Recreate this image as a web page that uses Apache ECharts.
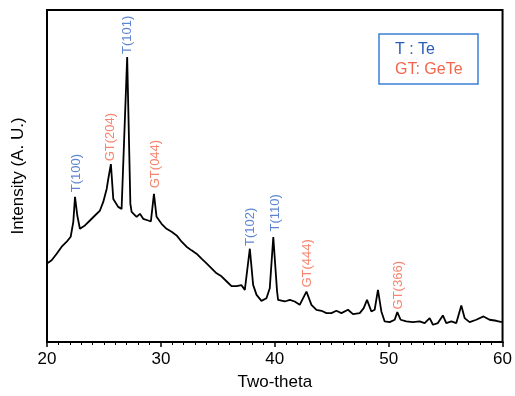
<!DOCTYPE html>
<html>
<head>
<meta charset="utf-8">
<script src="https://cdn.jsdelivr.net/npm/echarts@6/dist/echarts.min.js"></script>
<style>
  html, body { margin: 0; padding: 0; background: #fff; }
  #chart { width: 515px; height: 396px; }
</style>
</head>
<body>
<div id="chart"></div>
<script>
// two-theta (deg) and intensity (a.u.)
const twoTheta = [
  20.03, 20.41, 20.85, 21.29, 21.73, 22.08, 22.31, 22.46, 22.66, 22.89,
  23.33, 23.77, 24.21, 24.65, 24.94, 25.24, 25.38, 25.61, 25.82, 26.25,
  26.55, 26.71, 27.04, 27.32, 27.43, 27.87, 28.16, 28.45, 28.89, 29.12,
  29.39, 29.62, 30.06, 30.50, 30.94, 31.38, 31.82, 32.25, 32.69, 33.13,
  33.57, 34.01, 34.45, 34.89, 35.32, 35.76, 36.20, 36.64, 37.08, 37.37,
  37.81, 38.10, 38.40, 38.83, 39.27, 39.56, 39.87, 40.20, 40.29, 40.88,
  41.32, 41.75, 42.19, 42.78, 43.22, 43.66, 44.10, 44.54, 44.97, 45.41,
  45.85, 46.43, 46.87, 47.46, 47.81, 48.10, 48.48, 48.77, 49.06, 49.36,
  49.65, 50.09, 50.53, 50.76, 51.05, 51.55, 52.13, 52.72, 53.16, 53.60,
  53.89, 54.32, 54.76, 55.06, 55.50, 55.94, 56.38, 56.67, 57.11, 57.69,
  58.33, 58.86, 59.45, 59.94
];
const intensity = [
  23.7, 24.6, 26.6, 28.7, 30.2, 31.7, 36.2, 43.7, 38.1, 34.1,
  35.1, 36.6, 38.1, 39.6, 42.2, 46.1, 49.1, 53.6, 43.1, 40.7,
  40.1, 40.7, 85.8, 41.6, 39.2, 37.7, 38.6, 37.1, 36.6, 36.3,
  44.6, 37.7, 35.6, 34.1, 33.2, 32.1, 30.2, 28.7, 27.6, 26.6,
  25.1, 23.7, 22.2, 20.7, 19.8, 18.3, 16.8, 16.8, 17.1, 15.7,
  28.1, 17.2, 14.2, 12.4, 13.2, 16.2, 31.6, 15.3, 12.7, 12.2,
  12.7, 12.2, 11.2, 15.2, 11.2, 9.7, 9.4, 8.7, 8.7, 9.4,
  8.7, 9.7, 8.4, 8.7, 10.2, 12.7, 9.2, 9.7, 15.7, 9.2,
  6.2, 6.0, 6.7, 9.0, 6.7, 6.2, 6.0, 6.2, 5.7, 7.2,
  5.2, 5.7, 8.0, 5.7, 6.2, 5.7, 11.0, 7.2, 6.0, 6.7,
  7.7, 6.7, 6.4, 6.0
];

// peak labels (centre of each vertical label)
const peakText = ['T(100)', 'GT(204)', 'T(101)', 'GT(044)', 'T(102)', 'T(110)', 'GT(444)', 'GT(366)'];
const peakX = [22.59, 25.61, 27.06, 29.52, 37.89, 40.09, 42.85, 50.88];
const peakY = [50.9, 61.7, 92.5, 53.6, 34.7, 38.9, 23.7, 17.1];
const peakPhase = ['T', 'GT', 'T', 'GT', 'T', 'T', 'GT', 'GT'];

const xTicks = [20, 30, 40, 50, 60];
const legendLines = ['T : Te', 'GT: GeTe'];

const BLUE = '#3668c4';
const ORANGE = '#f4654a';
const FONT = 'Liberation Sans, Arial, sans-serif';

const chart = echarts.init(document.getElementById('chart'));

chart.setOption({
  animation: false,
  grid: {
    left: 47, right: 12, top: 10, bottom: 52,
    show: true, borderColor: '#000', borderWidth: 2, backgroundColor: 'transparent'
  },
  xAxis: {
    type: 'value',
    min: xTicks[0],
    max: xTicks[xTicks.length - 1],
    interval: 10,
    name: 'Two-theta',
    nameLocation: 'middle',
    nameGap: 32,
    nameTextStyle: { fontFamily: FONT, fontSize: 17, color: '#000' },
    axisLine: { lineStyle: { color: '#000', width: 2 } },
    axisTick: { length: 5, lineStyle: { color: '#000', width: 1.5 } },
    minorTick: { show: true, splitNumber: 10, length: 3, lineStyle: { color: '#000', width: 1 } },
    axisLabel: { fontFamily: FONT, fontSize: 17, color: '#000', margin: 9 },
    splitLine: { show: false }
  },
  yAxis: {
    type: 'value',
    min: 0,
    max: 100,
    name: 'Intensity (A. U.)',
    nameLocation: 'middle',
    nameGap: 20,
    nameTextStyle: { fontFamily: FONT, fontSize: 17, color: '#000' },
    axisLine: { show: true, lineStyle: { color: '#000', width: 2 } },
    axisTick: { show: false },
    axisLabel: { show: false },
    splitLine: { show: false }
  },
  series: [
    {
      type: 'line',
      data: twoTheta.map((x, i) => [x, intensity[i]]),
      showSymbol: false,
      lineStyle: { color: '#000', width: 1.8 },
      z: 3
    },
    {
      type: 'scatter',
      symbolSize: 0,
      silent: true,
      data: peakX.map((x, i) => ({
        value: [x, peakY[i]],
        label: {
          show: true,
          formatter: peakText[i],
          position: 'inside',
          rotate: 90,
          fontFamily: FONT,
          fontSize: 13,
          color: peakPhase[i] === 'T' ? BLUE : ORANGE
        }
      })),
      z: 4
    }
  ],
  graphic: [
    {
      type: 'rect',
      shape: { x: 379, y: 34, width: 99, height: 50 },
      style: { fill: '#fff', stroke: '#3d7fd9', lineWidth: 1.5 }
    },
    {
      type: 'text',
      x: 395, y: 50,
      style: { text: legendLines[0], fill: '#2a5cb8', font: '16px ' + FONT, verticalAlign: 'middle' }
    },
    {
      type: 'text',
      x: 395, y: 70,
      style: { text: legendLines[1], fill: ORANGE, font: '16px ' + FONT, verticalAlign: 'middle' }
    }
  ]
});
</script>
</body>
</html>
